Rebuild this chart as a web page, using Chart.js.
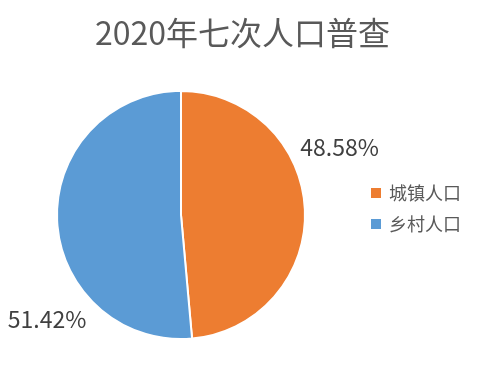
<!DOCTYPE html>
<html>
<head>
<meta charset="utf-8">
<script src="https://cdn.jsdelivr.net/npm/chart.js@4/dist/chart.umd.min.js"></script>
<style>
  html, body { margin: 0; padding: 0; background: #ffffff; }
  #wrap { width: 485px; height: 374px; position: relative; }
</style>
</head>
<body>
<div id="wrap"><canvas id="c"></canvas></div>
<script>
// 2020 census: urban vs rural population share (%)
const categories = ['城镇人口', '乡村人口'];
const shares = [48.58, 51.42];
const colors = ['#ED7D31', '#5B9BD5'];
const chartTitle = '2020年七次人口普查';

const FONT = "'Noto Sans CJK SC', 'Noto Sans', sans-serif";

// Percent labels placed outside the slices: [angle in degrees from 3 o'clock, distance as a multiple of radius]
const labelPlacement = [[-23, 1.39], [142, 1.37]];

// Title centred across the whole canvas (the pie itself sits left of centre)
const pageTitle = {
  id: 'pageTitle',
  afterDraw(chart) {
    const ctx = chart.ctx;
    ctx.save();
    ctx.font = '32px ' + FONT;
    ctx.fillStyle = '#595959';
    ctx.textAlign = 'center';
    ctx.textBaseline = 'middle';
    ctx.fillText(chartTitle, chart.width / 2, 33);
    ctx.restore();
  }
};

const outsideLabels = {
  id: 'outsideLabels',
  afterDatasetsDraw(chart) {
    const ctx = chart.ctx;
    const meta = chart.getDatasetMeta(0);
    ctx.save();
    ctx.font = '23px ' + FONT;
    ctx.fillStyle = '#404040';
    ctx.textAlign = 'center';
    ctx.textBaseline = 'middle';
    meta.data.forEach((arc, i) => {
      const [deg, k] = labelPlacement[i];
      const a = deg * Math.PI / 180;
      const x = arc.x + Math.cos(a) * arc.outerRadius * k;
      const y = arc.y + Math.sin(a) * arc.outerRadius * k;
      ctx.fillText(shares[i].toFixed(2) + '%', x, y);
    });
    ctx.restore();
  }
};

// Legend on the right: square markers with category names
const sideLegend = {
  id: 'sideLegend',
  afterDraw(chart) {
    const ctx = chart.ctx;
    const meta = chart.getDatasetMeta(0);
    const cy = meta.data[0].y;
    const x0 = 371, gap = 31, startY = cy - 22;
    ctx.save();
    ctx.font = '18px ' + FONT;
    ctx.textBaseline = 'middle';
    ctx.textAlign = 'left';
    categories.forEach((name, i) => {
      const y = startY + i * gap;
      ctx.fillStyle = colors[i];
      ctx.fillRect(x0, y - 5, 10, 10);
      ctx.fillStyle = '#595959';
      ctx.fillText(name, x0 + 18, y);
    });
    ctx.restore();
  }
};

new Chart(document.getElementById('c'), {
  type: 'pie',
  data: {
    labels: categories,
    datasets: [{
      data: shares,
      backgroundColor: colors,
      borderColor: '#ffffff',
      borderWidth: 2
    }]
  },
  options: {
    responsive: true,
    maintainAspectRatio: false,
    animation: false,
    layout: { padding: { top: 90, left: 56, right: 179, bottom: 34 } },
    plugins: {
      legend: { display: false },
      tooltip: { enabled: false },
      title: { display: false }
    }
  },
  plugins: [outsideLabels, sideLegend, pageTitle]
});
</script>
</body>
</html>
